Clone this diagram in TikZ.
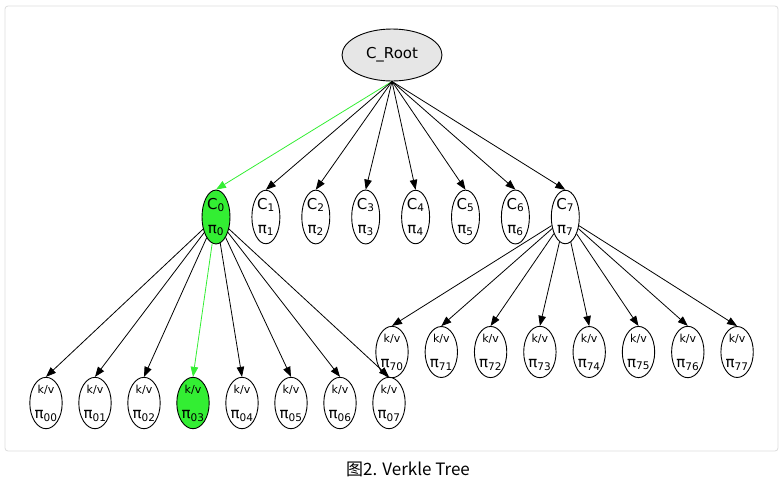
\documentclass[tikz,border=0pt]{standalone}
\usepackage{fontspec}
\setmainfont{DejaVu Sans}
\newfontfamily\cjkfont{Noto Sans CJK SC}
\usetikzlibrary{shapes.geometric,arrows.meta}
\definecolor{hlgreen}{HTML}{33EE33}
\definecolor{rootgray}{HTML}{E6E6E6}
\definecolor{framegray}{HTML}{DCDCDC}

\begin{document}
\begin{tikzpicture}[x=1pt,y=-1pt,
  vnode/.style={ellipse,draw,line width=0.9pt,inner sep=0pt,minimum width=28pt,minimum height=50pt,align=center,font=\fontsize{15}{24}\selectfont},
  edge/.style={line width=0.8pt,-{Triangle[length=10pt,width=7.5pt]}}]

%tree info
\def\topy{55}
\def\rowy{217}
\def\midy{352}
\def\lowy{403}
\useasboundingbox (0,0) rectangle (782,483);
%frame
\draw[framegray,line width=0.8pt,rounded corners=3pt] (5,6) rectangle (778,451);

%nodes
\node[vnode,fill=rootgray,minimum width=100pt,minimum height=52pt] (root) at (392,\topy) {C\_Root};
\foreach \i/\c in {0/hlgreen,1/white,2/white,3/white,4/white,5/white,6/white,7/white}{
    \node[vnode,fill=\c] (c\i) at ({216+49.9*\i},\rowy) {C\textsubscript{\i}\\π\textsubscript{\i}};
}
\foreach \i/\c in {0/white,1/white,2/white,3/hlgreen,4/white,5/white,6/white,7/white}{
    \node[vnode,fill=\c] (kv0\i) at ({46+49*\i},\lowy) {{\fontsize{11}{13}\selectfont k/v}\\[1pt]π\textsubscript{0\i}};
    \node[vnode] (kv7\i) at ({392+49.3*\i},\midy) {{\fontsize{11}{13}\selectfont k/v}\\[1pt]π\textsubscript{7\i}};
}

%draw edges
\draw[edge,hlgreen] (root.south) -- (c0.north);
\foreach \i in {1,...,7}
    \draw[edge] (root.south) -- (c\i.north);
\foreach \i/\c in {0/black,1/black,2/black,3/hlgreen,4/black,5/black,6/black,7/black}{
    \draw[edge,\c] (c0) -- (kv0\i.north);
    \draw[edge] (c7) -- (kv7\i.north);
}

%caption
\node[font=\cjkfont\fontsize{17}{20}\selectfont] (caption) at (408,469) {图2. Verkle Tree};

\end{tikzpicture}
\end{document}
